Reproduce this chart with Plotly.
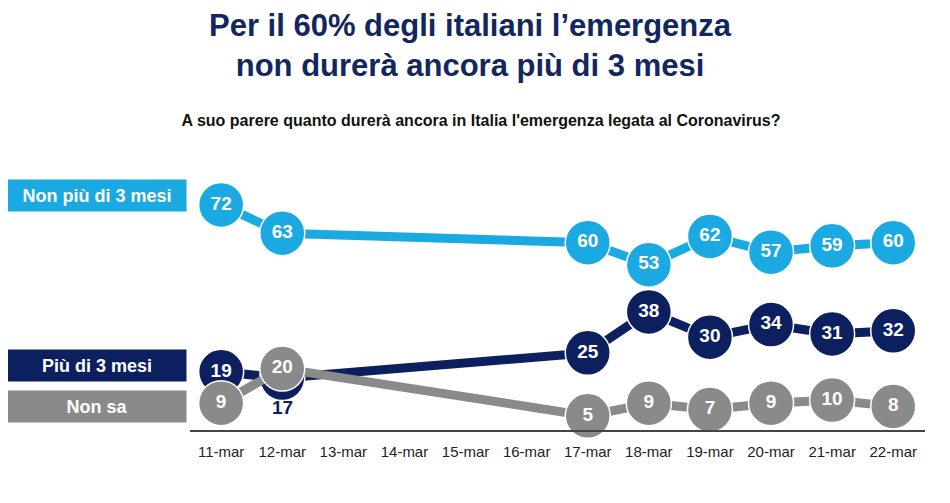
import plotly.graph_objects as go

tick_labels = ["11-mar", "12-mar", "13-mar", "14-mar", "15-mar", "16-mar",
               "17-mar", "18-mar", "19-mar", "20-mar", "21-mar", "22-mar"]
survey_dates = ["11-mar", "12-mar", "17-mar", "18-mar", "19-mar", "20-mar", "21-mar", "22-mar"]
non_piu_3_mesi = [72, 63, 60, 53, 62, 57, 59, 60]
piu_3_mesi = [19, 17, 25, 38, 30, 34, 31, 32]
non_sa = [9, 20, 5, 9, 7, 9, 10, 8]

series_names = ["Non più di 3 mesi", "Più di 3 mesi", "Non sa"]
colors = ["#1BA9E1", "#0C1F5E", "#8A8A8A"]

FONT = "Liberation Sans, Arial, sans-serif"
xs = [tick_labels.index(d) for d in survey_dates]

# The page body has an 8px default margin, so the figure is 8px smaller
W, H = 942, 495

fig = go.Figure()
for name, vals, col in zip(series_names, [non_piu_3_mesi, piu_3_mesi, non_sa], colors):
    texts = ["<b>%d</b>" % v for v in vals]
    if name == "Più di 3 mesi":
        texts[1] = ""  # hidden behind the grey marker; label drawn below
    fig.add_trace(go.Scatter(
        x=xs, y=vals, mode="lines+markers+text", name=name,
        line=dict(color=col, width=9),
        marker=dict(size=45, color=col, line=dict(color="white", width=1.5)),
        text=texts, textposition="middle center",
        textfont=dict(family=FONT, size=19, color="white"),
        showlegend=False, hoverinfo="skip", cliponaxis=False,
    ))

# hidden point label for "Più di 3 mesi" on 12-mar
fig.add_annotation(x=xs[1], y=piu_3_mesi[1], text="<b>%d</b>" % piu_3_mesi[1],
                   showarrow=False, yshift=-29,
                   font=dict(family=FONT, size=19, color=colors[1]))

# left-side legend boxes
legend_y = [(0.859 + 0.980) / 2, (0.188 + 0.314) / 2, (0.0275 + 0.153) / 2]
for name, col, yy in zip(series_names, colors, legend_y):
    fig.add_annotation(xref="paper", yref="paper", x=-0.1265, y=yy,
                       text="<b>%s</b>" % name, showarrow=False,
                       width=176, height=29, bgcolor=col,
                       xanchor="center", yanchor="middle",
                       font=dict(family=FONT, size=18, color="white"))

fig.add_annotation(xref="paper", yref="paper", x=0.382, y=1.506,
                   text="<b>Per il 60% degli italiani l’emergenza<br>non durerà ancora più di 3 mesi</b>",
                   showarrow=False, xanchor="center", yanchor="middle",
                   font=dict(family=FONT, size=31, color="#13275F"))

fig.update_layout(
    width=W, height=H,
    margin=dict(l=182, r=25, t=167, b=73),
    paper_bgcolor="white", plot_bgcolor="white",
    title=dict(text="<b>A suo parere quanto durerà ancora in Italia l'emergenza legata al Coronavirus?</b>",
               x=473 / W, xanchor="center", y=1 - 112 / H, yanchor="middle",
               font=dict(family=FONT, size=16, color="#111111")),
    xaxis=dict(range=[-0.51, 11.52], tickmode="array", tickvals=list(range(len(tick_labels))),
               ticktext=tick_labels, showgrid=False, zeroline=False,
               showline=True, linecolor="#444444", linewidth=1.5,
               ticks="outside", ticklen=7, tickcolor="rgba(0,0,0,0)",
               tickfont=dict(family=FONT, size=15, color="#222222")),
    yaxis=dict(range=[0.5, 81.5], visible=False, showgrid=False, zeroline=False),
)

fig.write_html("out.html")
